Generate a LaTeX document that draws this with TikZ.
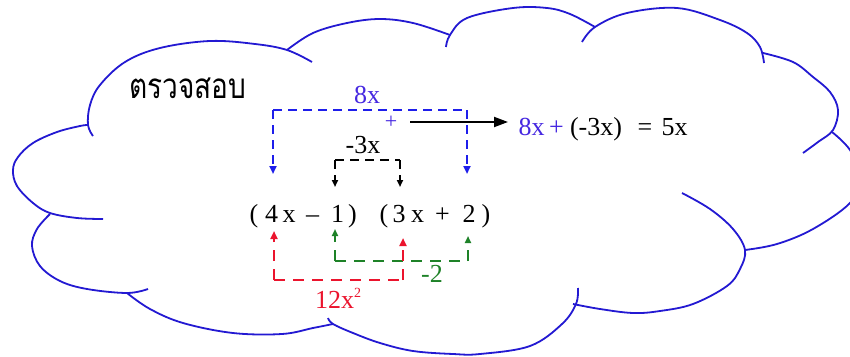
\documentclass[tikz,border=0pt]{standalone}
\usepackage{fontspec}
\setmainfont{Liberation Serif}
\newfontfamily\thaifont[Script=Thai,FakeStretch=0.8]{Loma}
\usetikzlibrary{arrows.meta}
\definecolor{cloudblue}{RGB}{35,25,210}
\definecolor{txtblue}{RGB}{70,40,225}
\definecolor{lineblue}{RGB}{30,30,235}
\definecolor{myred}{RGB}{235,20,45}
\definecolor{mygreen}{RGB}{30,130,40}
\begin{document}
\begin{tikzpicture}[x=1pt,y=-1pt,
  cloudline/.style={draw=cloudblue,line width=1.8pt},
  dshort/.style={line width=2pt,dash pattern=on 9pt off 6pt},
  dlong/.style={line width=2pt,dash pattern=on 11pt off 8pt},
  tipbig/.style={-{Triangle[length=8pt,width=7pt]}},
  tipsmall/.style={-{Triangle[length=7pt,width=6pt]}},
  expr/.style={inner sep=0pt,anchor=base,font=\fontsize{26}{26}\selectfont},
  lbl/.style={inner sep=0pt,anchor=base,font=\fontsize{26}{26}\selectfont}]
\clip (0,0) rectangle (850,356);
\fill[white] (0,0) rectangle (850,356);
% cloud bumps
\draw[cloudline] plot[smooth,tension=0.6] coordinates {(93,136) (88,125) (90,105) (100,85) (125,62) (160,48) (210,41) (255,44) (287,50) (312,62)};
\draw[cloudline] plot[smooth,tension=0.6] coordinates {(287,50) (313,33) (347,23) (380,19) (413,23) (450,35)};
\draw[cloudline] plot[smooth,tension=0.6] coordinates {(446,47) (450,35) (467,18) (513,8) (547,8) (570,14) (595,27)};
\draw[cloudline] plot[smooth,tension=0.6] coordinates {(582,42) (595,27) (627,13) (677,8) (720,20) (747,33) (760,47) (764,63)};
\draw[cloudline] plot[smooth,tension=0.6] coordinates {(763,53) (793,62) (813,77) (830,92) (838,110) (833,130) (818,142) (803,153)};
\draw[cloudline] plot[smooth,tension=0.6] coordinates {(832,132) (850,150) (862,178) (850,203) (813,229) (777,244) (745,250)};
\draw[cloudline] plot[smooth,tension=0.6] coordinates {(682,193) (710,209) (733,229) (745,250) (740,269) (727,286) (693,304) (660,311) (633,313) (600,309) (573,304)};
\draw[cloudline] plot[smooth,tension=0.6] coordinates {(578,288) (576,304) (562,324) (530,346) (480,354) (453,354) (413,351) (380,343) (353,333) (333,324) (328,318)};
\draw[cloudline] plot[smooth,tension=0.6] coordinates {(127,293) (150,309) (183,323) (233,333) (282,334) (313,328) (333,324)};
\draw[cloudline] plot[smooth,tension=0.6] coordinates {(50,214) (37,229) (32,246) (40,266) (60,281) (87,289) (127,293) (148,289)};
\draw[cloudline] plot[smooth,tension=0.6] coordinates {(88,125) (80,126) (57,132) (33,143) (18,157) (13,170) (17,186) (33,203) (50,213) (77,218) (103,219)};
% title
\node[inner sep=0pt,anchor=base west,font=\fontsize{35}{35}\selectfont] (title) at (129,98) {\thaifont ตรวจสอบ};
% expression
\node[expr] (p1) at (254,222) {(};
\node[expr] (t4) at (271.5,222) {4};
\node[expr] (x1) at (289,222) {x};
\node[expr] (m1) at (312.5,222) {–};
\node[expr] (t1) at (337.5,222) {1};
\node[expr] (p2) at (352.5,222) {)};
\node[expr] (p3) at (384,222) {(};
\node[expr] (t3) at (399,222) {3};
\node[expr] (x2) at (417.5,222) {x};
\node[expr] (pl) at (442.5,222) {+};
\node[expr] (t2) at (469,222) {2};
\node[expr] (p4) at (486,222) {)};
% result
\node[expr,text=txtblue] (r1) at (531.5,135) {8x};
\node[expr,text=txtblue] (r2) at (556.5,135) {+};
\node[expr] (r3) at (596,135) {(-3x)};
\node[expr] (r4) at (645,135) {=};
\node[expr] (r5) at (674.5,135) {5x};
% labels
\node[lbl,text=txtblue] (l8x) at (367,103) {8x};
\node[inner sep=0pt,text=txtblue,font=\fontsize{22}{22}\selectfont] (lplus) at (391,122) {+};
\node[lbl] (l3x) at (363,153) {-3x};
\node[lbl,text=myred] (l12) at (338,308) {12x\raisebox{11pt}{\fontsize{14}{14}\selectfont 2}};
\node[lbl,text=mygreen] (l2) at (432,282) {-2};
% coordinates
\coordinate (bL) at (273,110); \coordinate (bR) at (467,110);
\coordinate (bLt) at (273,174); \coordinate (bRt) at (467,174);
\coordinate (kL) at (335,160); \coordinate (kR) at (400,160);
\coordinate (kLt) at (335,187); \coordinate (kRt) at (400,187);
\coordinate (rL) at (274,280); \coordinate (rR) at (403,280);
\coordinate (rLt) at (274,231); \coordinate (rRt) at (403,238);
\coordinate (gL) at (335,261); \coordinate (gR) at (468,261);
\coordinate (gLt) at (335,229); \coordinate (gRt) at (468,236);
\coordinate (a0) at (410,122); \coordinate (a1) at (508,122);
% blue
\draw[lineblue,dshort] (bL) -- (bR);
\draw[lineblue,dshort,tipbig] (bL) -- (bLt);
\draw[lineblue,dshort,tipbig] (bR) -- (bRt);
% black
\draw[black,dshort] (kL) -- (kR);
\draw[black,dshort,tipsmall] (kL) -- (kLt);
\draw[black,dshort,tipsmall] (kR) -- (kRt);
% main arrow
\draw[black,line width=2pt,-{Triangle[length=14pt,width=10pt]}] (a0) -- (a1);
% green
\draw[mygreen,dlong] (gL) -- (gR);
\draw[mygreen,dlong,tipsmall] (gL) -- (gLt);
\draw[mygreen,dlong,tipsmall] (gR) -- (gRt);
% red
\draw[myred,dlong] (rL) -- (rR);
\draw[myred,dlong,tipbig] (rL) -- (rLt);
\draw[myred,dlong,tipbig] (rR) -- (rRt);
\end{tikzpicture}
\end{document}
